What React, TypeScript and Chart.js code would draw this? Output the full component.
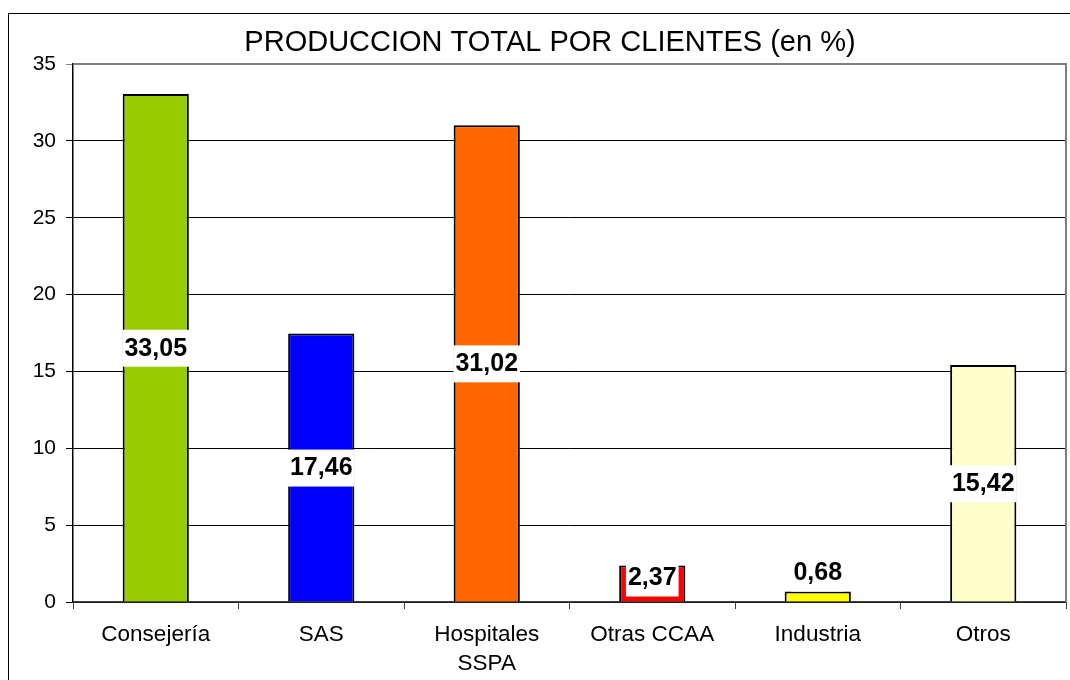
import React, { useEffect, useRef } from "react";
import { Chart, registerables } from "chart.js";

Chart.register(...registerables);

const TITLE = "PRODUCCION TOTAL POR CLIENTES (en %)";
const categories: (string | string[])[] = ["Consejería", "SAS", ["Hospitales", "SSPA"], "Otras CCAA", "Industria", "Otros"];
const values = [33.05, 17.46, 31.02, 2.37, 0.68, 15.42];
const valueLabels = ["33,05", "17,46", "31,02", "2,37", "0,68", "15,42"];
const barColors = ["#99CC00", "#0000FF", "#FF6600", "#FF0000", "#FFFF00", "#FFFFCC"];
const yTicks = [0, 5, 10, 15, 20, 25, 30, 35];

const FONT = "Arial, 'Liberation Sans', sans-serif";

const decorPlugin = {
  id: "decor",
  beforeDraw(chart: any) {
    const ctx = chart.ctx;
    ctx.save();
    ctx.fillStyle = "#ffffff";
    ctx.fillRect(0, 0, chart.width, chart.height);
    ctx.strokeStyle = "#000000";
    ctx.lineWidth = 1;
    ctx.strokeRect(8.5, 13.5, chart.width + 20, chart.height + 20);
    ctx.fillStyle = "#000000";
    ctx.font = `29px ${FONT}`;
    ctx.textAlign = "center";
    ctx.textBaseline = "middle";
    ctx.fillText(TITLE, 550, 43);
    ctx.restore();
  },
  afterDraw(chart: any) {
    const { ctx, chartArea } = chart;
    ctx.save();
    ctx.strokeStyle = "#808080";
    ctx.lineWidth = 2;
    ctx.beginPath();
    ctx.moveTo(chartArea.left, chartArea.top);
    ctx.lineTo(chartArea.right, chartArea.top);
    ctx.lineTo(chartArea.right, chartArea.bottom);
    ctx.stroke();
    ctx.restore();
  },
};

const labelPlugin = {
  id: "valueLabels",
  afterDatasetsDraw(chart: any) {
    const ctx = chart.ctx;
    const meta = chart.getDatasetMeta(0);
    ctx.save();
    ctx.font = `bold 25px ${FONT}`;
    ctx.textAlign = "center";
    ctx.textBaseline = "middle";
    meta.data.forEach((bar: any, i: number) => {
      const top = bar.y;
      const base = bar.base;
      const h = base - top;
      let cy: number;
      if (h < 20) cy = top - 19;
      else cy = Math.min((top + base) / 2, base - 24);
      const text = valueLabels[i];
      const w = ctx.measureText(text).width + 4;
      ctx.fillStyle = "#ffffff";
      ctx.fillRect(bar.x - w / 2, cy - 18, w, 37);
      ctx.fillStyle = "#000000";
      ctx.fillText(text, bar.x, cy + 1);
    });
    ctx.restore();
  },
};

export default function App() {
  const ref = useRef<HTMLCanvasElement>(null);
  useEffect(() => {
    document.body.style.margin = "0";
    const chart = new Chart(ref.current!, {
      type: "bar",
      data: {
        labels: categories,
        datasets: [
          {
            data: values,
            backgroundColor: barColors,
            borderColor: "#000000",
            borderWidth: 2,
            barPercentage: 0.4,
            categoryPercentage: 1,
          },
        ],
      },
      options: {
        responsive: false,
        animation: false,
        layout: { padding: { top: 64, right: 4, left: 0, bottom: 0 } },
        plugins: { legend: { display: false }, title: { display: false }, tooltip: { enabled: false } },
        scales: {
          x: {
            afterFit: (s: any) => { s.height = 78; },
            grid: { drawOnChartArea: false, drawTicks: true, tickLength: 7, color: "#404040", offset: true },
            border: { color: "#404040", width: 1.5 },
            ticks: { color: "#000000", font: { family: FONT, size: 22.5, lineHeight: 1.3 }, padding: 11, maxRotation: 0 },
          },
          y: {
            min: 0,
            max: 35,
            afterFit: (s: any) => { s.width = 73; },
            afterBuildTicks: (s: any) => { s.ticks = yTicks.map((v) => ({ value: v })); },
            grid: {
              color: (c: any) => (c.tick && c.tick.value === 35 ? "#808080" : "#000000"),
              lineWidth: 1,
              drawTicks: true,
              tickLength: 7,
            },
            border: { color: "#000000", width: 1.5 },
            ticks: { color: "#000000", font: { family: FONT, size: 21 }, padding: 10 },
          },
        },
      },
      plugins: [decorPlugin, labelPlugin],
    });
    return () => chart.destroy();
  }, []);
  return (
    <div style={{ width: 1070, height: 680 }}>
      <canvas ref={ref} width={1070} height={680} style={{ display: "block" }} />
    </div>
  );
}
